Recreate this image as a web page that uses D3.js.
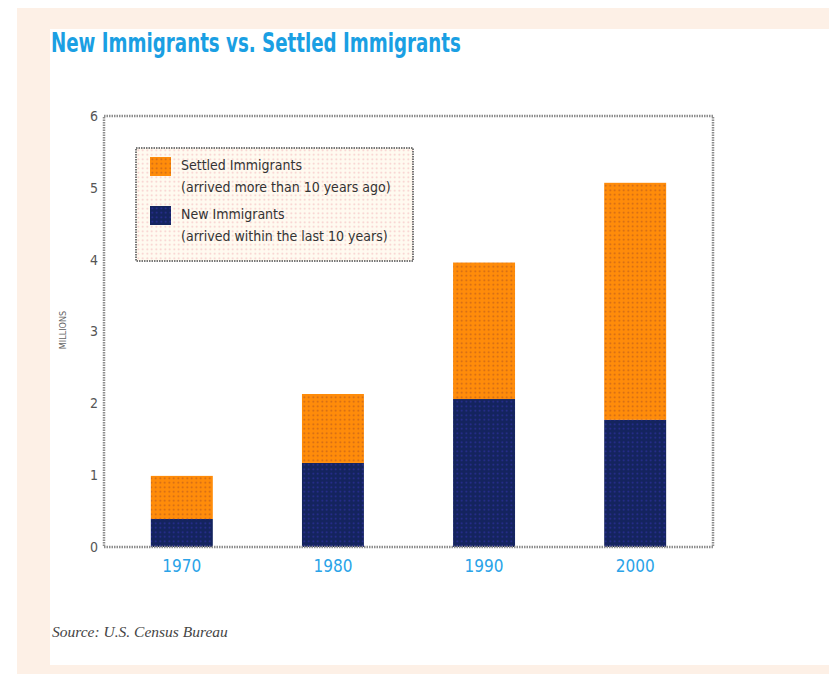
<!DOCTYPE html>
<html>
<head>
<meta charset="utf-8">
<script src="https://cdn.jsdelivr.net/npm/d3@7"></script>
<style>
  html, body { margin: 0; padding: 0; background: #fff; }
  svg { display: block; }
</style>
</head>
<body>
<svg id="chart" width="829" height="674"></svg>
<script>
const years = ["1970", "1980", "1990", "2000"];
const newImmigrants = [0.39, 1.17, 2.06, 1.77];
const settledImmigrants = [0.60, 0.96, 1.90, 3.30];
const yTicks = [0, 1, 2, 3, 4, 5, 6];
const legendItems = [
    { key: "settled", label: "Settled Immigrants", sub: "(arrived more than 10 years ago)" },
    { key: "new", label: "New Immigrants", sub: "(arrived within the last 10 years)" }
];

const svg = d3.select("#chart");
const width = 829, height = 674;
const sans = "'DejaVu Sans Condensed', 'DejaVu Sans', sans-serif";

// page background: peach band with white panel
svg.append("rect").attr("width", width).attr("height", height).attr("fill", "#ffffff");
svg.append("rect").attr("x", 17).attr("y", 8).attr("width", width - 17).attr("height", height - 8).attr("fill", "#fdf0e6");
svg.append("rect").attr("x", 50).attr("y", 29).attr("width", width - 50).attr("height", 636).attr("fill", "#ffffff");

// dotted textures
const defs = svg.append("defs");
function dotPattern(id, base, dot, size) {
    const p = defs.append("pattern")
        .attr("id", id)
        .attr("patternUnits", "userSpaceOnUse")
        .attr("width", size).attr("height", size);
    p.append("rect").attr("width", size).attr("height", size).attr("fill", base);
    p.append("circle").attr("cx", size / 2).attr("cy", size / 2).attr("r", 0.9).attr("fill", dot);
}
dotPattern("pSettled", "#ff8c0a", "#c8641a", 4.5);
dotPattern("pNew", "#14245e", "#2c2f9a", 4.5);
dotPattern("pLegend", "#fffaf0", "#f6c8c8", 4.5);

const colors = { settled: "url(#pSettled)", new: "url(#pNew)" };

// title, squeezed horizontally to look condensed
svg.append("text")
    .attr("transform", "translate(51,52) scale(0.78,1)")
    .attr("fill", "#1a9fe3")
    .style("font-family", sans)
    .style("font-size", "26px")
    .style("font-weight", "bold")
    .text("New Immigrants vs. Settled Immigrants");

const margin = { top: 116, left: 104, right: 116, bottom: 127 };
const innerWidth = width - margin.left - margin.right;
const innerHeight = height - margin.top - margin.bottom;
const g = svg.append("g").attr("transform", `translate(${margin.left},${margin.top})`);

const x = d3.scaleBand().domain(years).range([0, innerWidth]).paddingInner(0.59).paddingOuter(0.31);
const y = d3.scaleLinear().domain([0, 6]).range([innerHeight, 0]);

const rows = years.map((yr, i) => ({ year: yr, new: newImmigrants[i], settled: settledImmigrants[i] }));
const stacked = d3.stack().keys(["new", "settled"])(rows);

g.selectAll("g.layer")
    .data(stacked)
    .join("g")
    .attr("class", "layer")
    .attr("fill", d => colors[d.key])
    .selectAll("rect")
    .data(d => d)
    .join("rect")
    .attr("x", d => x(d.data.year))
    .attr("width", x.bandwidth())
    .attr("y", d => y(d[1]))
    .attr("height", d => y(d[0]) - y(d[1]));

// frame
g.append("rect")
    .attr("width", innerWidth)
    .attr("height", innerHeight)
    .attr("fill", "none")
    .attr("stroke", "#8c8c8c")
    .attr("stroke-width", 2.5)
    .attr("stroke-dasharray", "1.5,1");

const yAxis = g.append("g")
    .call(d3.axisLeft(y).tickValues(yTicks).tickFormat(d3.format("d")).tickSize(0).tickPadding(6));
yAxis.select(".domain").remove();
yAxis.selectAll("text")
    .attr("fill", "#555")
    .style("font-family", sans)
    .style("font-size", "14px");

const xAxis = g.append("g")
    .attr("transform", `translate(0,${innerHeight})`)
    .call(d3.axisBottom(x).tickSize(0).tickPadding(13));
xAxis.select(".domain").remove();
xAxis.selectAll("text")
    .attr("fill", "#2aa3e8")
    .style("font-family", sans)
    .style("font-size", "17px");

svg.append("text")
    .attr("transform", "translate(66,330) rotate(-90)")
    .attr("text-anchor", "middle")
    .attr("fill", "#666")
    .style("font-family", sans)
    .style("font-size", "9px")
    .text("MILLIONS");

// legend
const legend = svg.append("g").attr("transform", "translate(136,148)");
legend.append("rect")
    .attr("width", 277)
    .attr("height", 113)
    .attr("fill", "url(#pLegend)")
    .attr("stroke", "#777")
    .attr("stroke-width", 2)
    .attr("stroke-dasharray", "1.5,1");

legend.selectAll("g.item")
    .data(legendItems)
    .join("g")
    .attr("class", "item")
    .attr("transform", (d, i) => `translate(14,${9 + i * 49})`)
    .each(function(d) {
        const it = d3.select(this);
        it.append("rect").attr("width", 21).attr("height", 19).attr("fill", colors[d.key]);
        it.append("text")
            .attr("x", 31).attr("y", 13)
            .attr("fill", "#333")
            .style("font-family", sans)
            .style("font-size", "14px")
            .text(d.label);
        it.append("text")
            .attr("x", 31).attr("y", 35)
            .attr("fill", "#333")
            .style("font-family", sans)
            .style("font-size", "14px")
            .text(d.sub);
    });

svg.append("text")
    .attr("x", 52)
    .attr("y", 637)
    .attr("fill", "#444")
    .style("font-family", "'Liberation Serif', 'DejaVu Serif', serif")
    .style("font-style", "italic")
    .style("font-size", "15.5px")
    .text("Source: U.S. Census Bureau");
</script>
</body>
</html>
